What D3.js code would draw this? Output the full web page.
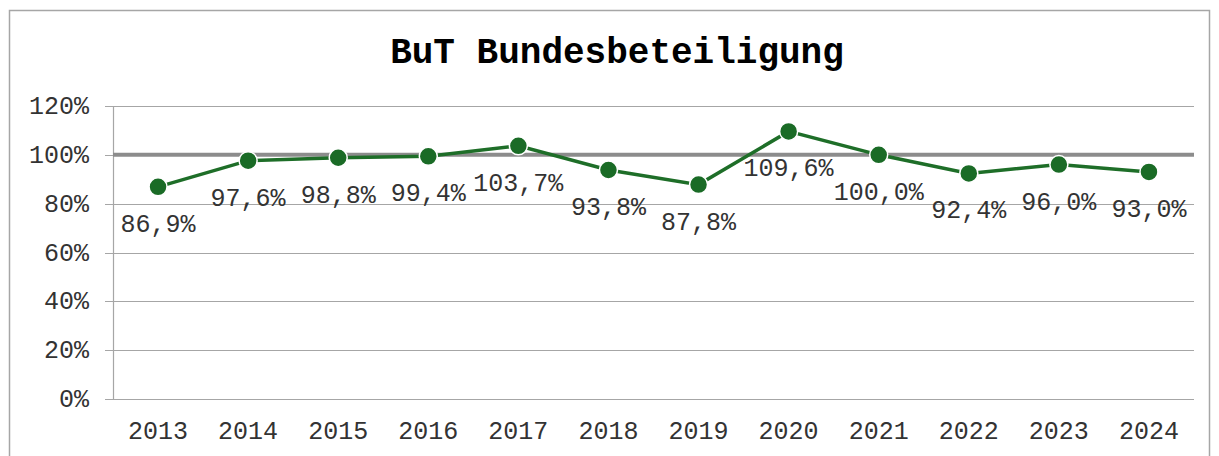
<!DOCTYPE html>
<html>
<head>
<meta charset="utf-8">
<script src="https://cdn.jsdelivr.net/npm/d3@7"></script>
<style>
	body { margin: 0; background: #fff; }
	text { font-family: "Liberation Mono", "Courier New", monospace; }
</style>
</head>
<body>
<div id="chart"></div>
<script>
// Chart data
const years = ['2013', '2014', '2015', '2016', '2017', '2018', '2019', '2020', '2021', '2022', '2023', '2024'];
const values = [86.9, 97.6, 98.8, 99.4, 103.7, 93.8, 87.8, 109.6, 100.0, 92.4, 96.0, 93.0];
const yTicks = [0, 20, 40, 60, 80, 100, 120];
const refValue = 100;
const title = 'BuT Bundesbeteiligung';

const width = 1219;
const height = 456;

// Plot area margins
const margin = { top: 106, left: 113, right: 25, bottom: 57 };

const svg = d3.select('#chart')
	.append('svg')
	.attr('width', width)
	.attr('height', height);

// Outer chart border
svg.append('rect')
	.attr('x', 9.5)
	.attr('y', 10.5)
	.attr('width', 1200)
	.attr('height', 460)
	.attr('fill', '#fff')
	.attr('stroke', '#a6a6a6')
	.attr('stroke-width', 1.5);

// Title
svg.append('text')
	.attr('x', 617)
	.attr('y', 63)
	.attr('text-anchor', 'middle')
	.style('font-size', '36px')
	.style('font-weight', 'bold')
	.attr('fill', '#000')
	.text(title);

const xScale = d3.scaleBand()
	.domain(years)
	.range([margin.left, width - margin.right]);

const yScale = d3.scaleLinear()
	.domain([0, 120])
	.range([height - margin.bottom, margin.top]);

// Gridlines
svg.append('g')
	.selectAll('line')
	.data(yTicks)
	.enter()
	.append('line')
	.attr('x1', margin.left - 8)
	.attr('x2', width - margin.right)
	.attr('y1', d => Math.round(yScale(d)) + 0.5)
	.attr('y2', d => Math.round(yScale(d)) + 0.5)
	.attr('stroke', '#a6a6a6')
	.attr('stroke-width', 1.2);

// Y axis line
svg.append('line')
	.attr('x1', margin.left + 0.5)
	.attr('x2', margin.left + 0.5)
	.attr('y1', yScale(120))
	.attr('y2', yScale(0))
	.attr('stroke', '#a6a6a6')
	.attr('stroke-width', 1.2);

// Reference line at 100%
svg.append('line')
	.attr('x1', margin.left)
	.attr('x2', width - margin.right)
	.attr('y1', yScale(refValue))
	.attr('y2', yScale(refValue))
	.attr('stroke', '#8c8c8c')
	.attr('stroke-width', 4);

// Y tick labels
svg.append('g')
	.selectAll('text')
	.data(yTicks)
	.enter()
	.append('text')
	.attr('x', 89)
	.attr('y', d => yScale(d) + 8)
	.attr('text-anchor', 'end')
	.style('font-size', '25px')
	.attr('fill', '#333')
	.text(d => d + '%');

// X tick labels
svg.append('g')
	.selectAll('text')
	.data(years)
	.enter()
	.append('text')
	.attr('x', d => xScale(d) + xScale.bandwidth() / 2)
	.attr('y', 439)
	.attr('text-anchor', 'middle')
	.style('font-size', '25px')
	.attr('fill', '#333')
	.text(d => d);

const points = years.map((y, i) => ({ year: y, value: values[i] }));

// Line
const line = d3.line()
	.x(d => xScale(d.year) + xScale.bandwidth() / 2)
	.y(d => yScale(d.value));

svg.append('path')
	.datum(points)
	.attr('d', line)
	.attr('fill', 'none')
	.attr('stroke', '#1e6e28')
	.attr('stroke-width', 3.5);

// Markers
svg.append('g')
	.selectAll('circle')
	.data(points)
	.enter()
	.append('circle')
	.attr('cx', d => xScale(d.year) + xScale.bandwidth() / 2)
	.attr('cy', d => yScale(d.value))
	.attr('r', 9)
	.attr('fill', '#1a6b26')
	.attr('stroke', '#fff')
	.attr('stroke-width', 1.5);

// Data labels below points
const fmt = v => v.toFixed(1).replace('.', ',') + '%';
svg.append('g')
	.selectAll('text')
	.data(points)
	.enter()
	.append('text')
	.attr('x', d => xScale(d.year) + xScale.bandwidth() / 2)
	.attr('y', d => yScale(d.value) + 45)
	.attr('text-anchor', 'middle')
	.style('font-size', '25px')
	.attr('fill', '#333')
	.text(d => fmt(d.value));
</script>
</body>
</html>
